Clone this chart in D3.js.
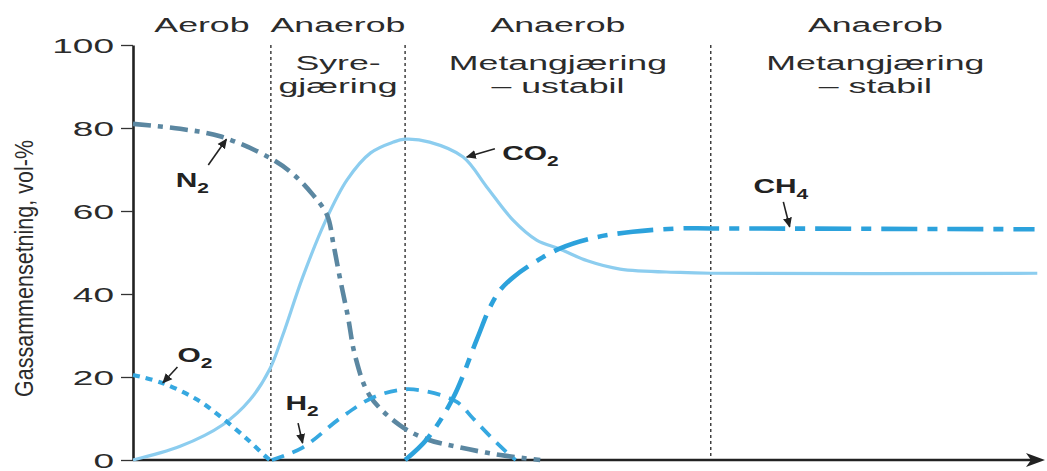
<!DOCTYPE html>
<html>
<head>
<meta charset="utf-8">
<script src="https://cdn.jsdelivr.net/npm/d3@7"></script>
<style>
  html, body { margin: 0; padding: 0; background: #fff; }
  svg { display: block; font-family: "Liberation Sans", Arial, sans-serif; }
</style>
</head>
<body>
<div id="chart"></div>
<script>
// tid (vilkårlig skala 0-100) og gassinnhold i vol-%
const phaseStarts = [0, 15.2, 30.0, 63.7];
const phaseEnd = 100;
const oxygenLabels = ["Aerob", "Anaerob", "Anaerob", "Anaerob"];
const stageLabels = [[], ["Syre-", "gjæring"], ["Metangjæring", "– ustabil"], ["Metangjæring", "– stabil"]];
const yTicks = [0, 20, 40, 60, 80, 100];

const co2T = [0, 5.2, 9.9, 12.9, 15.1, 16.5, 18.7, 21.2, 23.6, 26.2, 28.7, 30.0, 32.7, 36.4, 39.0, 41.9, 44.5, 47.1, 50.1, 53.7, 60.3, 63.7, 99.7];
const co2V = [0, 3.3, 8.5, 14.5, 22, 30, 44, 57.5, 67.5, 74, 76.6, 77.3, 76.6, 73, 65.8, 57.8, 53, 50.8, 48, 46, 45.2, 45, 45];

const n2T = [0, 5.2, 9.6, 15.1, 17.6, 19.8, 21.4, 22.1, 22.8, 23.7, 24.5, 26.1, 29.4, 32.4, 36.1, 40.5, 44.9];
const n2V = [81, 79.8, 78, 72.8, 69, 64, 59, 52, 44, 34.5, 25, 15.5, 8.4, 5, 3, 1.2, 0];

const o2T = [0, 3.3, 7.1, 9.9, 12.6, 14.8, 15.1];
const o2V = [20.5, 18.5, 14.5, 10, 5, 0.5, 0];

const h2T = [15.3, 18.7, 22.8, 26.4, 29.8, 32.4, 35.7, 37.5, 39.7, 41.9, 42.2];
const h2V = [0, 3, 10, 15, 17, 16.5, 14, 10, 5, 0.5, 0];

const ch4T = [30.0, 32.4, 35.3, 37.9, 39.4, 40.5, 41.9, 43.8, 47.1, 50.7, 55.1, 60.3, 63.7, 99.4];
const ch4V = [0, 5, 15, 29, 37, 41, 44, 47, 51, 53.5, 55, 55.8, 55.8, 55.6];

const width = 1047, height = 471;
const STRETCH = 1.7; // bildet er strukket i bredden

const svg = d3.select("#chart").append("svg")
    .attr("width", width).attr("height", height)
    .style("background", "white");

svg.append("defs").append("marker")
    .attr("id", "arrow").attr("viewBox", "0 -5 10 10")
    .attr("refX", 9).attr("refY", 0)
    .attr("markerUnits", "userSpaceOnUse")
    .attr("markerWidth", 10).attr("markerHeight", 10).attr("orient", "auto")
  .append("path").attr("d", "M0,-4.5L10,0L0,4.5Z").attr("fill", "#222");

const x = d3.scaleLinear().domain([0, 100]).range([133, 1040]);
const y = d3.scaleLinear().domain([0, 100]).range([460, 45]);

// strukket tekst
function label(g, px, py, str, size, anchor, weight) {
    return g.append("text")
        .attr("transform", `translate(${px},${py}) scale(${STRETCH},1)`)
        .attr("text-anchor", anchor || "middle")
        .style("font-size", size + "px")
        .style("font-weight", weight || "normal")
        .attr("fill", "#2b2b2b")
        .text(str);
}

// faseskiller
svg.append("g").selectAll("line")
    .data(phaseStarts.slice(1)).join("line")
    .attr("x1", d => x(d)).attr("x2", d => x(d))
    .attr("y1", y(100)).attr("y2", y(0))
    .attr("stroke", "#333").attr("stroke-width", 1.4)
    .attr("stroke-dasharray", "3,3");

// overskrifter
const head = svg.append("g");
phaseStarts.forEach((s, i) => {
    const e = i < phaseStarts.length - 1 ? phaseStarts[i + 1] : phaseEnd;
    const cx = (x(s) + x(e)) / 2;
    label(head, cx, 32, oxygenLabels[i], 21);
    stageLabels[i].forEach((t, j) => label(head, cx, 70 + j * 23, t, 21));
});

// y-akse
const yAxis = svg.append("g").attr("transform", `translate(${x(0)},0)`)
    .call(d3.axisLeft(y).tickValues(yTicks).tickSize(12).tickSizeOuter(0));
yAxis.select(".domain").attr("stroke", "#222").attr("stroke-width", 2.6);
yAxis.selectAll(".tick line").attr("stroke", "#333").attr("stroke-width", 1.3);
yAxis.selectAll(".tick text")
    .attr("x", null).attr("dy", null)
    .attr("transform", `translate(-19,7) scale(1.85,1)`)
    .style("font-size", "20px").attr("fill", "#2b2b2b")
    .style("font-family", "'Liberation Sans', Arial, sans-serif");

svg.append("text")
    .attr("transform", `translate(33,${(140 + 397) / 2}) scale(1.3,1) rotate(-90)`)
    .attr("text-anchor", "middle")
    .style("font-family", "'Liberation Sans Narrow', 'Liberation Sans', Arial, sans-serif")
    .style("font-size", "20px").attr("fill", "#2b2b2b")
    .attr("textLength", 257).attr("lengthAdjust", "spacingAndGlyphs")
    .text("Gassammensetning, vol-%");

// x-akse med pil
svg.append("line")
    .attr("x1", x(0)).attr("x2", x(100) - 2)
    .attr("y1", y(0)).attr("y2", y(0))
    .attr("stroke", "#222").attr("stroke-width", 2.6);
svg.append("path")
    .attr("d", `M${x(100) - 14},${y(0) - 7}L${x(100) + 5},${y(0)}L${x(100) - 14},${y(0) + 7}L${x(100) - 9},${y(0)}Z`)
    .attr("fill", "#222");

// kurver
const series = [
    {name: "CO2", t: co2T, v: co2V, color: "#8ccdef", w: 3.2, dash: null},
    {name: "N2", t: n2T, v: n2V, color: "#5b87a1", w: 4.6, dash: "18,7,5,7"},
    {name: "O2", t: o2T, v: o2V, color: "#36a8e0", w: 4.2, dash: "7,6"},
    {name: "H2", t: h2T, v: h2V, color: "#36a8e0", w: 3.8, dash: "13,9"},
    {name: "CH4", t: ch4T, v: ch4V, color: "#2ca2dc", w: 4.6, dash: "36,10,10,10"}
];
const line = d3.line().x(d => x(d[0])).y(d => y(d[1])).curve(d3.curveCatmullRom.alpha(0.5));

svg.append("g").selectAll("path")
    .data(series).join("path")
    .attr("fill", "none")
    .attr("stroke", d => d.color)
    .attr("stroke-width", d => d.w)
    .attr("stroke-dasharray", d => d.dash)
    .attr("stroke-linecap", "butt")
    .attr("d", d => line(d3.zip(d.t, d.v)));

// navn med piler (plassert i dataenheter)
const notes = [
    {main: "N", sub: "2", tx: 4.7, ty: 65.8, from: [8.3, 71.1], to: [10.3, 77.3]},
    {main: "O", sub: "2", tx: 4.9, ty: 23.6, from: [4.9, 22.4], to: [3.3, 18.6]},
    {main: "H", sub: "2", tx: 16.8, ty: 12.0, from: [18.2, 8.9], to: [18.7, 4.1]},
    {main: "CO", sub: "2", tx: 40.7, ty: 72.3, from: [39.9, 75.0], to: [36.8, 73.0]},
    {main: "CH", sub: "4", tx: 68.4, ty: 64.3, from: [71.7, 62.2], to: [72.4, 56.2]}
];
const ann = svg.append("g");
notes.forEach(n => {
    const t = ann.append("text")
        .attr("transform", `translate(${x(n.tx)},${y(n.ty)}) scale(${STRETCH * 0.88},1)`)
        .style("font-size", "20px").style("font-weight", "bold").attr("fill", "#222");
    t.append("tspan").text(n.main);
    t.append("tspan").attr("dy", 6).style("font-size", "14px").text(n.sub);
    ann.append("line")
        .attr("x1", x(n.from[0])).attr("y1", y(n.from[1]))
        .attr("x2", x(n.to[0])).attr("y2", y(n.to[1]))
        .attr("stroke", "#222").attr("stroke-width", 1.6)
        .attr("marker-end", "url(#arrow)");
});
</script>
</body>
</html>
